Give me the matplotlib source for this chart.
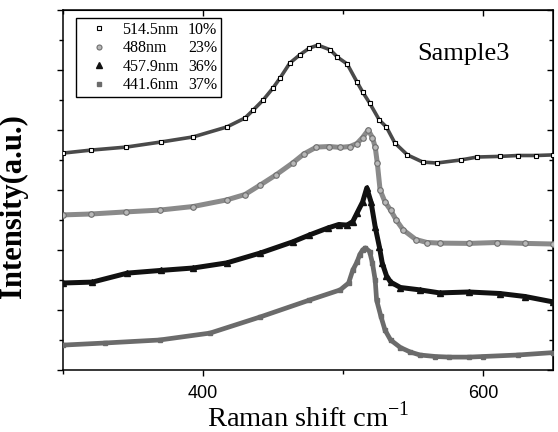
import matplotlib
matplotlib.use("Agg")
import matplotlib.pyplot as plt
from matplotlib.lines import Line2D
from matplotlib.ticker import MultipleLocator

plt.rcParams['font.family'] = 'Liberation Serif'

# 514.5nm  (open squares)
x1 = [300, 320, 345, 370, 393, 417, 430, 436, 443, 450, 455, 462, 469, 476, 482, 491, 496,
      503, 510, 514, 519, 526, 531, 537, 546, 557, 567, 584, 596, 612, 625, 638, 650]
y1 = [7.23, 7.33, 7.43, 7.6, 7.77, 8.1, 8.4, 8.67, 9.0, 9.4, 9.73, 10.23, 10.5, 10.73, 10.83, 10.67, 10.43,
      10.2, 9.6, 9.27, 8.9, 8.33, 8.1, 7.57, 7.17, 6.93, 6.9, 7.0, 7.1, 7.12, 7.15, 7.15, 7.17]

# 488nm  (grey circles)
x2 = [300, 320, 345, 369, 393, 417, 430, 441, 452, 464, 472, 481, 490, 498, 505, 510, 514,
      518, 521, 523, 524.5, 526.5, 530, 534, 538, 543, 552, 560, 569, 590, 610, 630, 650]
y2 = [5.17, 5.2, 5.27, 5.33, 5.45, 5.67, 5.85, 6.17, 6.5, 6.9, 7.2, 7.43, 7.45, 7.42, 7.45, 7.55, 7.75,
      8.0, 7.75, 7.43, 6.9, 6.0, 5.6, 5.33, 5.0, 4.67, 4.35, 4.25, 4.23, 4.22, 4.25, 4.22, 4.2]

# 457.9nm (black triangles)
x3 = [300, 321, 346, 370, 393, 417, 441, 464, 476, 489, 497, 503, 507, 510, 514, 517, 520,
      523, 526, 528, 531, 534, 541, 555, 569, 590, 612, 630, 650]
y3 = [2.9, 2.93, 3.23, 3.32, 3.4, 3.57, 3.9, 4.27, 4.5, 4.73, 4.85, 4.83, 4.95, 5.23, 5.6, 6.07, 5.6,
      4.77, 4.1, 3.57, 3.15, 2.93, 2.75, 2.67, 2.57, 2.6, 2.55, 2.45, 2.27]

# 441.6nm (grey squares)
x4 = [300, 330, 369, 405, 441, 476, 498, 504, 507, 510, 512, 514, 516, 519, 521, 523, 524,
      527, 530, 534, 541, 548, 555, 566, 576, 590, 600, 625, 650]
y4 = [0.83, 0.9, 1.0, 1.23, 1.77, 2.33, 2.67, 2.9, 3.33, 3.6, 3.85, 4.0, 4.07, 3.95, 3.57, 3.0, 2.33,
      1.8, 1.33, 1.0, 0.75, 0.6, 0.5, 0.45, 0.43, 0.43, 0.45, 0.5, 0.58]

names = ['514.5nm', '488nm', '457.9nm', '441.6nm']
pcts = ['10%', '23%', '36%', '37%']

fig = plt.figure(figsize=(5.58, 4.32), dpi=100)
ax = fig.add_axes([63/558, 62/432, 490/558, 360/432])

# dense bands under the markers
ax.plot(x1, y1, '-', color='#4a4a4a', lw=2.6, zorder=2)
ax.plot(x2, y2, '-', color='#8a8a8a', lw=3.6, zorder=2)
ax.plot(x3, y3, '-', color='#111111', lw=3.6, zorder=2)
ax.plot(x4, y4, '-', color='#6b6b6b', lw=3.4, zorder=2)

ax.plot(x1, y1, 's', ms=3.2, mfc='white', mec='black', mew=0.8, zorder=3)
ax.plot(x2, y2, 'o', ms=4, mfc='#b8b8b8', mec='#6e6e6e', mew=0.8, zorder=3)
ax.plot(x3, y3, '^', ms=4, color='#111111', zorder=3)
ax.plot(x4, y4, 's', ms=3.4, color='#6b6b6b', zorder=3)

handles = [
    Line2D([], [], ls='none', marker='s', ms=3.2, mfc='white', mec='black', mew=0.8),
    Line2D([], [], ls='none', marker='o', ms=3.6, mfc='#b8b8b8', mec='#6e6e6e', mew=0.8),
    Line2D([], [], ls='none', marker='^', ms=4, color='#111111'),
    Line2D([], [], ls='none', marker='s', ms=3.4, color='#6b6b6b'),
]
blank = [Line2D([], [], ls='none') for _ in range(4)]
leg = ax.legend(handles + blank, names + pcts, ncol=2, loc='upper left',
                bbox_to_anchor=(13/490, 352/360), borderaxespad=0,
                fontsize=11.5, frameon=True, fancybox=False, framealpha=1,
                edgecolor='black', borderpad=0.25, handlelength=2.4,
                handletextpad=0.25, columnspacing=-2.06, labelspacing=0.15)
leg.get_frame().set_linewidth(1.0)

ax.text(0.818, 0.878, 'Sample3', transform=ax.transAxes, fontsize=19,
        ha='center', va='center')

ax.set_xlim(300, 650)
ax.set_ylim(0, 12)
ax.xaxis.set_major_locator(MultipleLocator(200))
ax.xaxis.set_minor_locator(MultipleLocator(100))
ax.yaxis.set_major_locator(MultipleLocator(2))
ax.yaxis.set_minor_locator(MultipleLocator(1))
ax.set_yticklabels([])
ax.yaxis.set_ticklabels([], minor=True)

for s in ax.spines.values():
    s.set_linewidth(1.1)

ax.tick_params(which='both', direction='out', top=False, right=False, width=1)
ax.tick_params(which='major', length=4.5, pad=6)
ax.tick_params(which='minor', length=3)
for lab in ax.get_xticklabels():
    lab.set_family('Liberation Sans')
    lab.set_fontsize(13)

# mirrored ticks pointing inward on top and right
sec_x = ax.secondary_xaxis('top')
sec_x.xaxis.set_major_locator(MultipleLocator(200))
sec_x.xaxis.set_minor_locator(MultipleLocator(100))
sec_x.tick_params(which='both', direction='in', labeltop=False, width=1)
sec_x.tick_params(which='major', length=4.5)
sec_x.tick_params(which='minor', length=3)
sec_y = ax.secondary_yaxis('right')
sec_y.yaxis.set_major_locator(MultipleLocator(2))
sec_y.yaxis.set_minor_locator(MultipleLocator(1))
sec_y.tick_params(which='both', direction='in', labelright=False, width=1)
sec_y.tick_params(which='major', length=4.5)
sec_y.tick_params(which='minor', length=3)

ax.set_xlabel(r'Raman shift cm$^{\mathregular{-1}}$', fontsize=20.5, labelpad=0)
ax.set_ylabel('Intensity(a.u.)', fontsize=22, fontweight='bold')
ax.yaxis.set_label_coords(-0.071, 0.456)

fig.savefig('out.png', dpi=100)
